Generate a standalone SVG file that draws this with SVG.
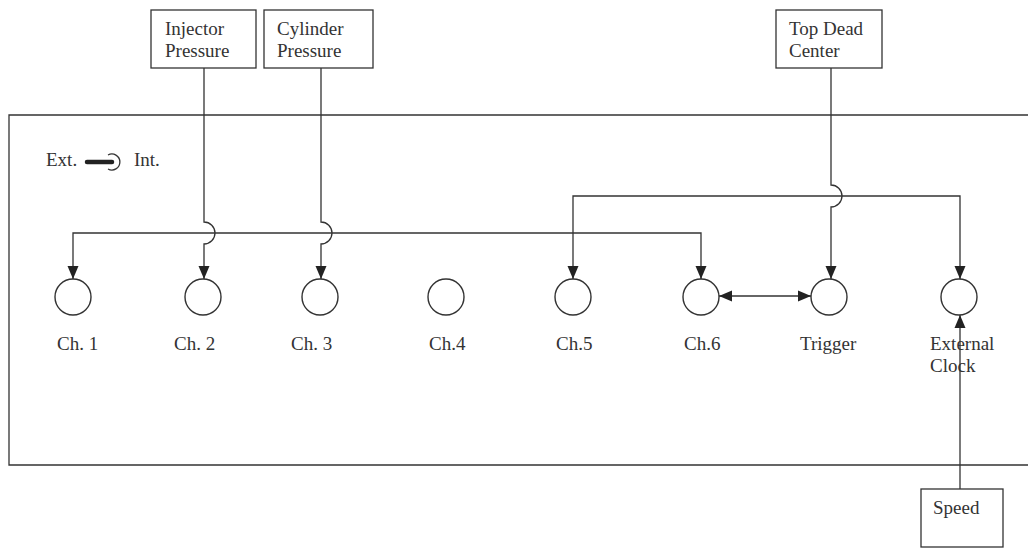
<svg xmlns="http://www.w3.org/2000/svg" width="1028" height="548" viewBox="0 0 1028 548">
<style>
.box{fill:#fff;stroke:#333;stroke-width:1.3}
.port{fill:#fff;stroke:#333;stroke-width:1.4}
.ln{fill:none;stroke:#333;stroke-width:1.3}
text{font-family:"Liberation Serif","Times New Roman",serif;font-size:19px;fill:#333}
</style>
<defs>
<marker id="ah" viewBox="0 0 13 12" refX="13" refY="6" markerWidth="13" markerHeight="12" markerUnits="userSpaceOnUse" orient="auto-start-reverse">
<path d="M0,0.5 L13,6 L0,11.5 Z" fill="#222"/>
</marker>
</defs>
<rect width="1028" height="548" fill="#fff"/>
<g id="panel">
<path d="M1030,115 H9 V465 H1030" class="ln" stroke="#555"/>
<text x="46" y="166">Ext.</text>
<line x1="87" y1="162" x2="112" y2="162" stroke="#222" stroke-width="4.5" stroke-linecap="round"/>
<path d="M108,155 A8,8 0 1 1 108,169" class="ln" stroke-width="1.2"/>
<text x="134" y="166">Int.</text>
</g>
<g id="injector"><rect class="box" x="151" y="10" width="105" height="58"/><text x="165" y="35">Injector</text><text x="165" y="57">Pressure</text></g>
<g id="cylinder"><rect class="box" x="264" y="10" width="109" height="58"/><text x="277" y="35">Cylinder</text><text x="277" y="57">Pressure</text></g>
<g id="tdc"><rect class="box" x="776" y="10" width="106" height="58"/><text x="789" y="35">Top Dead</text><text x="789" y="57">Center</text></g>
<g id="speed"><rect class="box" x="921" y="489" width="82" height="58"/><text x="933" y="514">Speed</text></g>
<g id="ch1"><circle class="port" cx="73" cy="297" r="18"/><text x="57" y="350">Ch. 1</text></g>
<g id="ch2"><circle class="port" cx="203" cy="297" r="18"/><text x="174" y="350">Ch. 2</text></g>
<g id="ch3"><circle class="port" cx="320" cy="297" r="18"/><text x="291" y="350">Ch. 3</text></g>
<g id="ch4"><circle class="port" cx="446" cy="297" r="18"/><text x="429" y="350">Ch.4</text></g>
<g id="ch5"><circle class="port" cx="573" cy="297" r="18"/><text x="556" y="350">Ch.5</text></g>
<g id="ch6"><circle class="port" cx="701" cy="297" r="18"/><text x="684" y="350">Ch.6</text></g>
<g id="trigger"><circle class="port" cx="829" cy="297" r="18"/><text x="800" y="350">Trigger</text></g>
<g id="extclock"><circle class="port" cx="959" cy="297" r="18"/><text x="930" y="350">External</text><text x="930" y="372">Clock</text></g>
<g id="connectors">
<path class="ln" d="M73,279 V233 H701 V279" marker-start="url(#ah)" marker-end="url(#ah)"/>
<path class="ln" d="M204,68 V222 A11,11 0 0 1 204,244 V279" marker-end="url(#ah)"/>
<path class="ln" d="M321,68 V222 A11,11 0 0 1 321,244 V279" marker-end="url(#ah)"/>
<path class="ln" d="M573,279 V196 H960 V279" marker-start="url(#ah)" marker-end="url(#ah)"/>
<path class="ln" d="M831,68 V185 A11,11 0 0 1 831,207 V279" marker-end="url(#ah)"/>
<line class="ln" x1="719" y1="296" x2="811" y2="296" marker-start="url(#ah)" marker-end="url(#ah)"/>
<line class="ln" x1="960" y1="489" x2="960" y2="315" marker-end="url(#ah)"/>
</g>
</svg>
